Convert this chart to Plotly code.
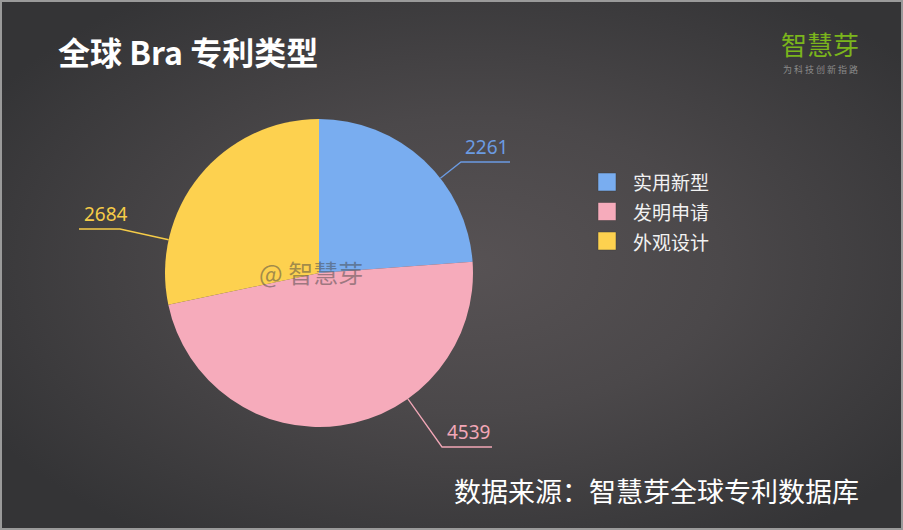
import base64
import math
import plotly.graph_objects as go

# ---- data ----
labels = ["实用新型", "发明申请", "外观设计"]
values = [2261, 4539, 2684]
slice_colors = ["#79adf0", "#f6abbb", "#fdd14f"]
label_colors = ["#6b9be2", "#f2a7b7", "#f6cc48"]

title_text = "全球 Bra 专利类型"
source_text = "数据来源：智慧芽全球专利数据库"
brand_text = "智慧芽"
brand_sub = "为 科 技 创 新 指 路"
watermark_text = "@ 智慧芽"

W, H = 903, 530
CX, CY, R = 319, 273, 154
FONT = "Noto Sans CJK SC"


def px(x):
    return x / W


def py(y):
    return 1 - y / H


svg = (
    f'<svg xmlns="http://www.w3.org/2000/svg" width="{W}" height="{H}" '
    f'viewBox="0 0 {W} {H}" preserveAspectRatio="none"><defs>'
    '<radialGradient id="g" cx="52%" cy="50%" r="62%">'
    '<stop offset="0" stop-color="#575254"/>'
    '<stop offset="0.45" stop-color="#4b484a"/>'
    '<stop offset="1" stop-color="#343436"/>'
    '</radialGradient></defs>'
    f'<rect width="{W}" height="{H}" fill="url(#g)"/></svg>'
)
bg_src = "data:image/svg+xml;base64," + base64.b64encode(svg.encode()).decode()

fig = go.Figure()
fig.add_trace(go.Pie(
    labels=labels,
    values=values,
    marker=dict(colors=slice_colors, line=dict(width=0)),
    sort=False,
    direction="clockwise",
    rotation=0,
    textinfo="none",
    hoverinfo="label+value+percent",
    showlegend=False,
    domain=dict(x=[px(CX - R), px(CX + R)], y=[py(CY + R), py(CY - R)]),
))

shapes = []
annotations = []

# data label placement: outer end of the horizontal leader segment, its length, side
label_layout = [
    dict(end=(510, 162), seg=49, side="right"),
    dict(end=(492, 447), seg=50, side="right"),
    dict(end=(79, 229), seg=41, side="left"),
]
for val, col, lay in zip(values, label_colors, label_layout):
    ex, ey = lay["end"]
    if lay["side"] == "right":
        elx = ex - lay["seg"]
    else:
        elx = ex + lay["seg"]
    ely = ey
    dx, dy = elx - CX, ely - CY
    d = math.hypot(dx, dy)
    sx, sy = CX + R * dx / d, CY + R * dy / d
    shapes.append(dict(type="path", xref="paper", yref="paper",
                       path=f"M {px(sx)} {py(sy)} L {px(elx)} {py(ely)} L {px(ex)} {py(ey)}",
                       line=dict(color=col, width=1.3), layer="above"))
    annotations.append(dict(
        x=px(ex) if lay["side"] == "right" else px(ex + 3), y=py(ey - 15),
        xref="paper", yref="paper", text=str(val), showarrow=False,
        xanchor="right" if lay["side"] == "right" else "left", yanchor="middle",
        font=dict(family="Noto Sans", size=19, color=col)))

# manual legend
leg_x0, leg_y0, leg_dy, sq = 598, 182, 29.5, 18
for i, (lab, col) in enumerate(zip(labels, slice_colors)):
    yc = leg_y0 + i * leg_dy
    shapes.append(dict(type="rect", xref="paper", yref="paper",
                       x0=px(leg_x0), x1=px(leg_x0 + sq), y0=py(yc - sq / 2), y1=py(yc + sq / 2),
                       fillcolor=col, line=dict(color="rgba(60,60,60,0.6)", width=0.8)))
    annotations.append(dict(x=px(631), y=py(yc), xref="paper", yref="paper", text=lab,
                            showarrow=False, xanchor="left", yanchor="middle",
                            font=dict(family=FONT, size=19, color="#f2f2f2")))

# border
shapes.append(dict(type="rect", xref="paper", yref="paper", x0=0, x1=1, y0=0, y1=1,
                   line=dict(color="#9a9a9a", width=4)))

annotations += [
    dict(x=px(56), y=py(51), xref="paper", yref="paper", text=f"<b>{title_text}</b>",
         showarrow=False, xanchor="left", yanchor="middle",
         font=dict(family=FONT, size=32, color="#ffffff")),
    dict(x=px(820), y=py(44), xref="paper", yref="paper", text=brand_text,
         showarrow=False, xanchor="center", yanchor="middle",
         font=dict(family=FONT, size=26, color="#7bb51c")),
    dict(x=px(820), y=py(69.5), xref="paper", yref="paper", text=brand_sub,
         showarrow=False, xanchor="center", yanchor="middle",
         font=dict(family=FONT, size=9, color="#8a8a8a")),
    dict(x=px(861), y=py(490), xref="paper", yref="paper", text=source_text,
         showarrow=False, xanchor="right", yanchor="middle",
         font=dict(family=FONT, size=27, color="#ffffff")),
    dict(x=px(311), y=py(272), xref="paper", yref="paper", text=watermark_text,
         showarrow=False, xanchor="center", yanchor="middle",
         font=dict(family=FONT, size=25, color="rgba(70,70,70,0.5)")),
]

fig.update_layout(
    width=W, height=H,
    margin=dict(l=0, r=0, t=0, b=0),
    paper_bgcolor="#444244",
    plot_bgcolor="rgba(0,0,0,0)",
    images=[dict(source=bg_src, xref="paper", yref="paper", x=0, y=1, sizex=1, sizey=1,
                 xanchor="left", yanchor="top", sizing="stretch", layer="below")],
    shapes=shapes,
    annotations=annotations,
    showlegend=False,
)

fig.write_html(
    "out.html",
    config={"displayModeBar": False},
    post_script="document.body.style.margin='0';document.body.style.overflow='hidden';",
)
